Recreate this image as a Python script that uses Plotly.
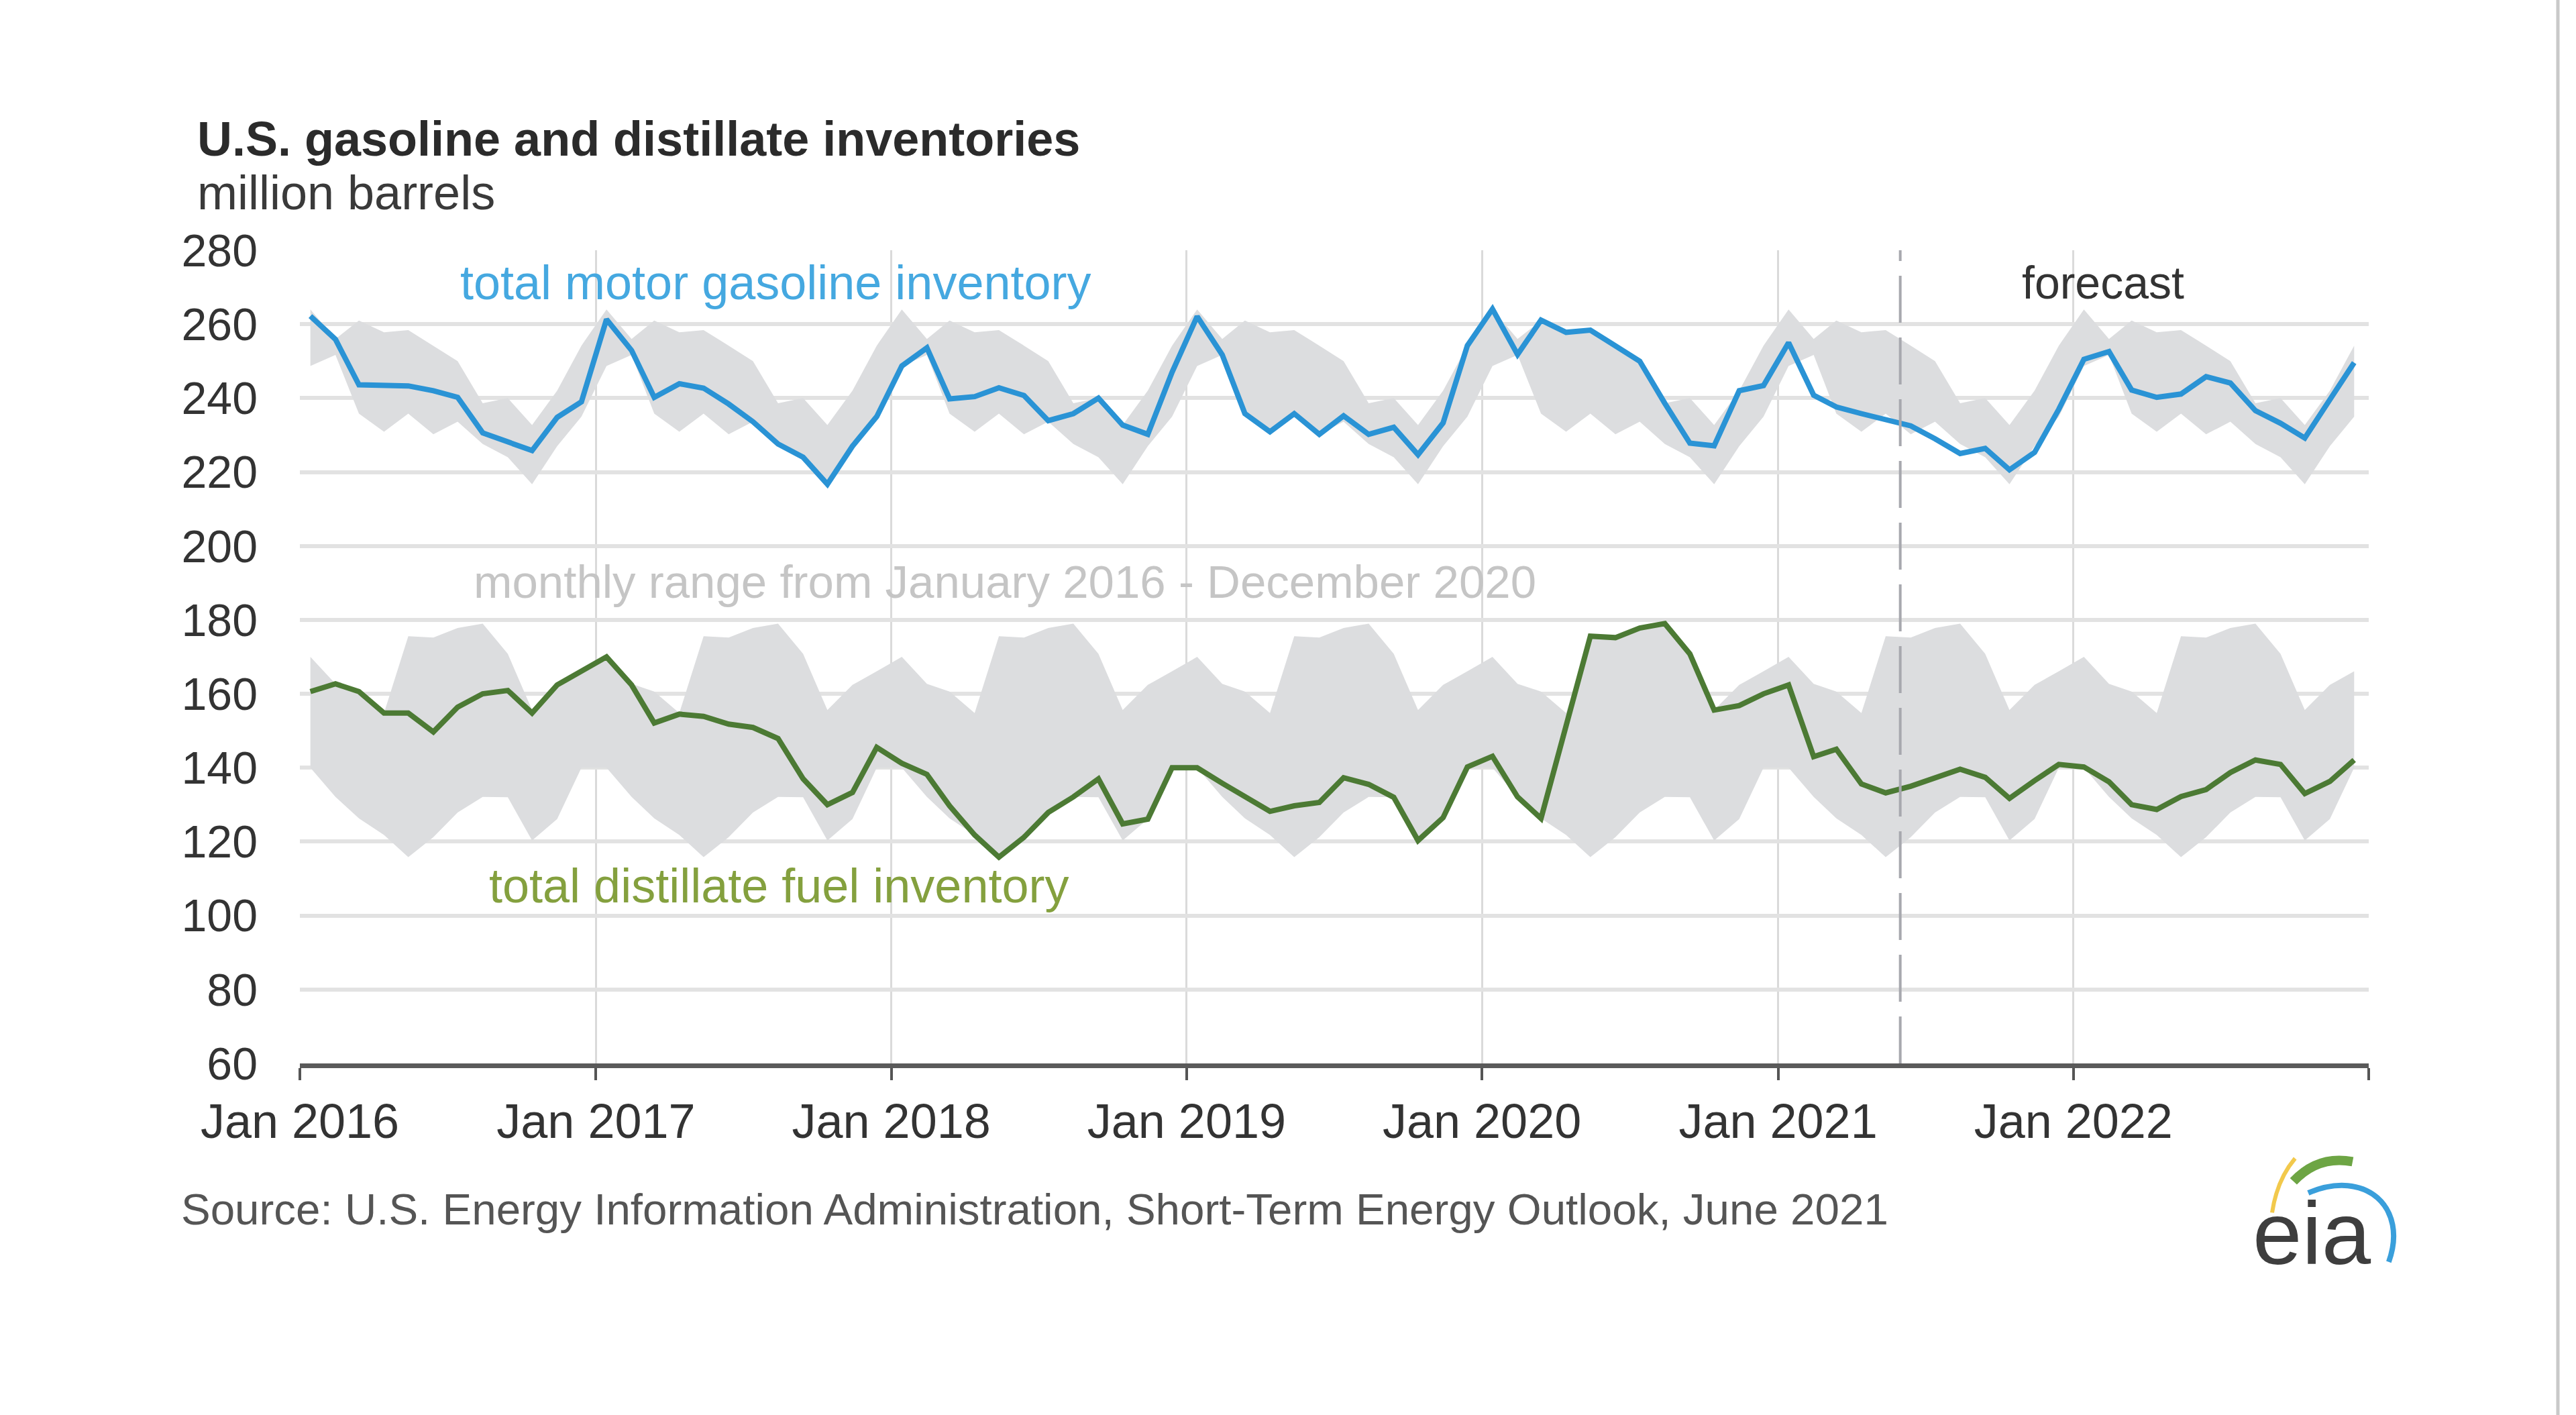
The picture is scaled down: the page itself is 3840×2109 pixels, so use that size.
import pandas as pd
import plotly.graph_objects as go

# ---------------- data (million barrels, monthly) ----------------
months = pd.date_range("2016-01-01", periods=84, freq="MS") + pd.Timedelta(days=13)

gasoline = [
    262.2, 255.9, 243.6, 243.3, 243.3, 242.0, 240.2, 230.6, 228.2, 225.8, 234.8, 239.0,  # 2016
    261.3, 252.9, 240.2, 243.9, 242.7, 238.4, 233.6, 227.6, 224.0, 216.7, 227.0, 235.0,  # 2017
    248.7, 253.6, 239.8, 240.4, 242.8, 240.7, 233.9, 235.8, 240.0, 232.7, 230.2, 247.0,  # 2018
    262.1, 251.7, 235.8, 230.9, 235.8, 230.2, 235.2, 230.2, 232.1, 224.7, 233.3, 254.2,  # 2019
    264.1, 251.8, 261.1, 257.8, 258.4, 254.2, 250.0, 238.6, 227.8, 227.1, 242.0, 243.4,  # 2020
    255.0, 240.8, 237.6, 235.8, 234.1, 232.5, 229.0, 225.0, 226.4, 220.6, 225.3, 237.0,  # 2021
    250.5, 252.6, 242.2, 240.2, 241.1, 245.8, 244.1, 236.6, 233.2, 229.2, 239.6, 249.6,  # 2022
]

distillate = [
    160.6, 162.7, 160.6, 154.8, 154.8, 149.7, 156.4, 160.0, 160.9, 154.8, 162.4, 166.1,  # 2016
    170.0, 162.4, 152.1, 154.5, 153.9, 151.8, 150.9, 147.9, 137.0, 130.0, 133.3, 145.5,  # 2017
    141.2, 138.2, 129.7, 121.8, 115.8, 121.2, 127.9, 132.1, 137.0, 124.8, 126.1, 140.0,  # 2018
    140.0, 135.8, 132.1, 128.2, 129.7, 130.6, 137.3, 135.5, 132.0, 120.3, 126.5, 140.2,  # 2019
    143.1, 132.1, 126.3, 151.0, 175.6, 175.2, 177.8, 179.0, 170.8, 155.6, 156.8, 160.0,  # 2020
    162.4, 143.0, 145.0, 135.6, 133.2, 135.0, 137.4, 139.6, 137.4, 131.7, 136.5, 140.9,  # 2021
    140.2, 136.2, 130.0, 128.7, 132.2, 134.1, 138.7, 142.1, 140.9, 133.0, 136.3, 142.1,  # 2022
]

# monthly range Jan 2016 - Dec 2020 (by calendar month, Jan..Dec)
gas_band_hi = [264.0, 256.0, 261.0, 257.8, 258.4, 254.2, 250.0, 238.6, 240.0, 232.7, 242.0, 254.2]
gas_band_lo = [248.7, 251.7, 235.8, 230.9, 235.8, 230.2, 233.6, 227.6, 224.0, 216.7, 227.0, 235.0]
dist_band_hi = [170.0, 162.7, 160.6, 154.8, 175.6, 175.2, 177.8, 179.0, 170.8, 155.6, 162.4, 166.1]
dist_band_lo = [140.0, 132.1, 126.3, 121.8, 115.8, 121.2, 127.9, 132.1, 132.0, 120.3, 126.1, 140.0]
n_years = 7

forecast_start = "2021-06-01"
tick_dates = ["2016-01-01", "2017-01-01", "2018-01-01", "2019-01-01", "2020-01-01",
              "2021-01-01", "2022-01-01", "2023-01-01"]
tick_text = ["Jan 2016", "Jan 2017", "Jan 2018", "Jan 2019", "Jan 2020",
             "Jan 2021", "Jan 2022", ""]
y_ticks = list(range(60, 281, 20))

# ---------------- figure ----------------
FONT = "Liberation Sans, Arial, sans-serif"
BAND = "#DCDDDF"
W, H = 3840, 2109
L, R, T, B = 447, 309, 373, 524

fig = go.Figure()

for hi, lo in [(gas_band_hi, gas_band_lo), (dist_band_hi, dist_band_lo)]:
    fig.add_trace(go.Scatter(x=months, y=hi * n_years, mode="lines",
                             line=dict(width=0, color=BAND), showlegend=False,
                             hoverinfo="skip"))
    fig.add_trace(go.Scatter(x=months, y=lo * n_years, mode="lines",
                             line=dict(width=0, color=BAND), fill="tonexty",
                             fillcolor=BAND, showlegend=False, hoverinfo="skip"))

fig.add_trace(go.Scatter(x=months, y=gasoline, mode="lines", name="total motor gasoline inventory",
                         line=dict(color="#2A93D5", width=8), showlegend=False))
fig.add_trace(go.Scatter(x=months, y=distillate, mode="lines", name="total distillate fuel inventory",
                         line=dict(color="#4C7A34", width=8), showlegend=False))

# forecast divider
fig.add_shape(type="line", xref="x", yref="paper", x0=forecast_start, x1=forecast_start,
              y0=0, y1=1, line=dict(color="#A7A8AE", width=4, dash="70px,22px"), layer="above")


def px2paper(px, py):
    return (px - L) / (W - L - R), (H - B - py) / (H - T - B)


def ann(text, px, py, size, color, xanchor="center", bold=False, family=FONT):
    x, y = px2paper(px, py)
    fig.add_annotation(text=f"<b>{text}</b>" if bold else text, x=x, y=y, xref="paper", yref="paper",
                       xanchor=xanchor, yanchor="middle", showarrow=False,
                       font=dict(size=size, color=color, family=family))


ann("U.S. gasoline and distillate inventories", 292, 207, 72, "#2B2B2B", "left", bold=True)
ann("million barrels", 292, 287, 72, "#3A3A3A", "left")
ann("total motor gasoline inventory", 1156, 421, 72, "#45A8E0")
ann("forecast", 3135, 421, 68, "#333333")
ann("monthly range from January 2016 - December 2020", 1498, 867, 69, "#C5C5C5")
ann("total distillate fuel inventory", 1161, 1320, 72, "#84A03E")
ann("Source: U.S. Energy Information Administration, Short-Term Energy Outlook, June 2021",
    268, 1802, 65.5, "#555555", "left")
ann("eia", 3446, 1838, 132, "#3E3E3E")


# eia logo arcs (decoration)
def S(sx, sy):
    return px2paper(sx * 2.449, sy * 2.449)


def path(pts, cmd):
    (x0, y0) = S(*pts[0])
    rest = " ".join(f"{S(*p)[0]:.5f},{S(*p)[1]:.5f}" for p in pts[1:])
    return f"M {x0:.5f},{y0:.5f} {cmd} {rest}"


fig.add_shape(type="path", xref="paper", yref="paper",
              path=path([(1383, 738), (1386, 718), (1397, 705)], "Q"),
              line=dict(color="#F2C94C", width=6))
fig.add_shape(type="path", xref="paper", yref="paper",
              path=path([(1396, 719), (1411, 703), (1432, 707)], "Q"),
              line=dict(color="#6DA544", width=14))
fig.add_shape(type="path", xref="paper", yref="paper",
              path=path([(1405, 726), (1440, 711), (1466, 735), (1454, 768)], "C"),
              line=dict(color="#3A9FDB", width=8))

# right border of the graphic
bx, _ = px2paper(3813, 0)
fig.add_shape(type="line", xref="paper", yref="paper", x0=bx, x1=bx,
              y0=px2paper(0, H)[1], y1=px2paper(0, 0)[1],
              line=dict(color="#C9C9C9", width=5))

fig.update_layout(
    width=W, height=H, autosize=False,
    margin=dict(l=L, r=R, t=T, b=B),
    paper_bgcolor="white", plot_bgcolor="white",
    font=dict(family=FONT, color="#333333"),
    showlegend=False,
)
fig.update_xaxes(
    type="date", range=["2016-01-01", "2023-01-01"],
    tickmode="array", tickvals=tick_dates, ticktext=tick_text,
    tickfont=dict(size=72, color="#333333", family=FONT),
    ticks="outside", ticklen=18, tickwidth=4, tickcolor="#555555",
    showline=True, linecolor="#5A5A5A", linewidth=7,
    showgrid=True, gridcolor="#DADADA", gridwidth=3, zeroline=False,
    ticklabelstandoff=0,
)
fig.update_yaxes(
    range=[60, 280], tickmode="array", tickvals=y_ticks,
    tickfont=dict(size=68, color="#333333", family=FONT),
    ticks="", showline=False,
    showgrid=True, gridcolor="#E2E2E2", gridwidth=6, zeroline=False,
    ticklabelstandoff=62,
)

fig.write_html("out.html")
